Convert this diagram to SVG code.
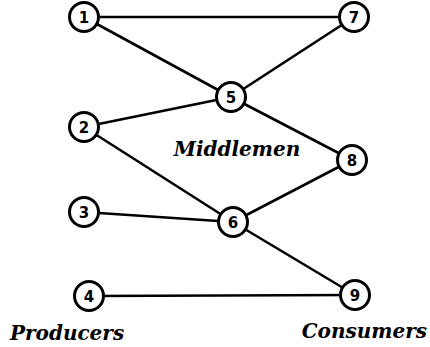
<svg xmlns="http://www.w3.org/2000/svg" width="430" height="347" viewBox="0 0 430 347">
<style>
.n circle{fill:#fff;stroke:#000;stroke-width:3}
.n text{font-family:"DejaVu Sans",sans-serif;font-weight:bold;font-size:15px;text-anchor:middle;fill:#000}
.e line{stroke:#000;stroke-width:2.6}
.lbl{font-family:"DejaVu Serif",serif;font-weight:bold;font-style:italic;font-size:20px;fill:#000}
</style>
<rect width="430" height="347" fill="#fff"/>
<g id="edges" class="e">
<line x1="84" y1="17" x2="354" y2="17"/>
<line x1="84" y1="17" x2="231" y2="97"/>
<line x1="354" y1="17" x2="231" y2="97"/>
<line x1="84" y1="127" x2="231" y2="97"/>
<line x1="231" y1="97" x2="352" y2="160"/>
<line x1="84" y1="127" x2="233" y2="222"/>
<line x1="84" y1="212" x2="233" y2="222"/>
<line x1="352" y1="160" x2="233" y2="222"/>
<line x1="233" y1="222" x2="355" y2="295"/>
<line x1="89" y1="296" x2="355" y2="295"/>
</g>
<g id="n1" class="n"><circle cx="84" cy="17" r="14.5"/><text x="84" y="22.5">1</text></g>
<g id="n7" class="n"><circle cx="354" cy="17" r="14.5"/><text x="354" y="22.5">7</text></g>
<g id="n5" class="n"><circle cx="231" cy="97" r="14.5"/><text x="231" y="102.5">5</text></g>
<g id="n2" class="n"><circle cx="84" cy="127" r="14.5"/><text x="84" y="132.5">2</text></g>
<g id="n8" class="n"><circle cx="352" cy="160" r="14.5"/><text x="352" y="165.5">8</text></g>
<g id="n3" class="n"><circle cx="84" cy="212" r="14.5"/><text x="84" y="217.5">3</text></g>
<g id="n6" class="n"><circle cx="233" cy="222" r="14.5"/><text x="233" y="227.5">6</text></g>
<g id="n4" class="n"><circle cx="89" cy="296" r="14.5"/><text x="89" y="301.5">4</text></g>
<g id="n9" class="n"><circle cx="355" cy="295" r="14.5"/><text x="355" y="300.5">9</text></g>
<text class="lbl" x="237" y="156" text-anchor="middle">Middlemen</text>
<text class="lbl" x="10" y="340">Producers</text>
<text class="lbl" x="427" y="338" text-anchor="end">Consumers</text>
</svg>
